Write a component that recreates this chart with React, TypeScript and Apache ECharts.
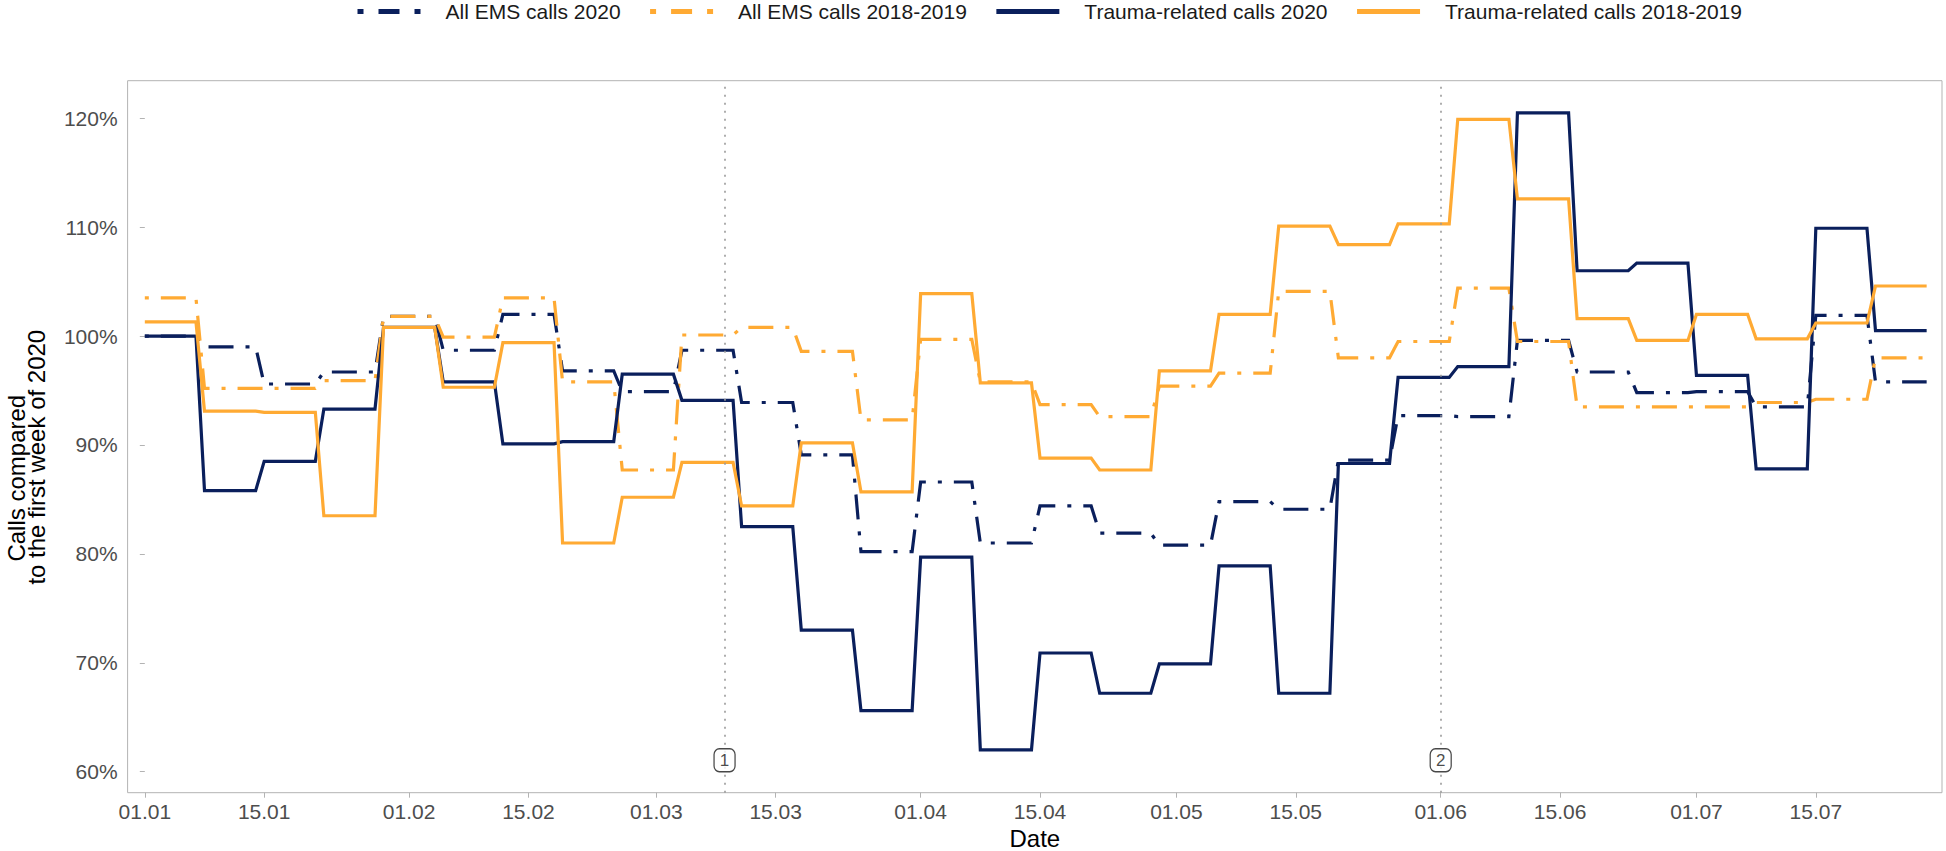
import React, { useEffect, useRef } from "react";
import * as echarts from "echarts";

// ---- data (weekly values, % of the first week of 2020) ----
const seriesNames = [
  "All EMS calls 2020",
  "All EMS calls 2018-2019",
  "Trauma-related calls 2020",
  "Trauma-related calls 2018-2019",
];

const allEms2020 = [
  100.0, 99.0, 95.6, 96.7, 101.8, 98.7, 102.0, 96.8, 94.9, 98.7,
  93.9, 89.1, 80.2, 86.6, 81.0, 84.4, 81.9, 80.8, 84.8, 84.1,
  88.6, 92.7, 92.6, 99.6, 96.7, 94.8, 94.9, 93.5, 101.9, 95.8,
];
const allEms20182019 = [
  103.5, 95.2, 95.2, 95.9, 101.8, 99.9, 103.5, 95.8, 87.7, 100.1,
  100.8, 98.6, 92.3, 99.7, 95.8, 93.7, 92.6, 95.4, 96.6, 104.1,
  98.0, 99.5, 104.4, 99.5, 93.5, 93.5, 93.5, 93.9, 94.2, 98.0,
];
const trauma2020 = [
  100.0, 85.8, 88.5, 93.3, 100.8, 95.8, 90.1, 90.3, 96.5, 94.1,
  82.5, 73.0, 65.6, 79.7, 62.0, 70.9, 67.2, 69.9, 78.9, 67.2,
  88.3, 96.2, 97.2, 120.5, 106.0, 106.7, 96.4, 87.8, 109.9, 100.5,
];
const trauma20182019 = [
  101.3, 93.1, 93.0, 83.5, 100.8, 95.3, 99.4, 81.0, 85.2, 88.4,
  84.4, 90.2, 85.7, 103.9, 95.7, 88.8, 87.7, 96.8, 102.0, 110.1,
  108.4, 110.3, 119.9, 112.6, 101.6, 99.6, 102.0, 99.75, 101.2, 104.6,
];

const xTickLabels = [
  "01.01", "15.01", "01.02", "15.02", "01.03", "15.03", "01.04",
  "15.04", "01.05", "15.05", "01.06", "15.06", "01.07", "15.07",
];
const yTickValues = [60, 70, 80, 90, 100, 110, 120];
const yTitleLines = ["Calls compared", "to the first week of 2020"];
const xTitle = "Date";

const eventDates = ["09.03", "01.06"];
const eventLabels = ["1", "2"];
const eventLabelLevel = 61.05;

// ---- helpers ----
const YEAR = 2020;
const dayOf = (label: string) => {
  const [d, m] = label.split(".").map(Number);
  return (Date.UTC(YEAR, m - 1, d) - Date.UTC(YEAR, 0, 1)) / 86400000;
};
const weekly = (vals: number[]) =>
  vals.flatMap((v, k) => [
    [7 * k, v],
    [7 * k + 6, v],
  ]);

const NAVY = "#0A1F5C";
const ORANGE = "#FFAA33";
const FONT = "'Liberation Sans', Arial, Helvetica, sans-serif";
const PLOT_DASH = [4, 12, 25, 12];
const LEGEND_DASH = [6, 15, 21, 15];
const Y_MIN = 58.07;
const Y_MAX = 123.45;

export default function App() {
  const ref = useRef<HTMLDivElement>(null);

  useEffect(() => {
    if (!ref.current) return;
    const chart = echarts.init(ref.current, undefined, { renderer: "svg" });

    const xTickDays = xTickLabels.map(dayOf);
    const labelByDay: Record<number, string> = {};
    xTickLabels.forEach((l) => (labelByDay[dayOf(l)] = l));

    const defs = [
      { name: seriesNames[0], data: allEms2020, color: NAVY, dash: true },
      { name: seriesNames[1], data: allEms20182019, color: ORANGE, dash: true },
      { name: seriesNames[2], data: trauma2020, color: NAVY, dash: false },
      { name: seriesNames[3], data: trauma20182019, color: ORANGE, dash: false },
    ];

    const lineSeries = defs.map((d, i) => ({
      type: "line",
      name: d.name,
      data: weekly(d.data),
      showSymbol: false,
      symbol: "circle",
      smooth: false,
      color: d.color,
      lineStyle: {
        color: d.color,
        width: 3.2,
        type: d.dash ? PLOT_DASH : "solid",
        cap: "butt",
        join: "miter",
      },
      emphasis: { disabled: true },
      z: 3,
      markLine:
        i === 0
          ? {
              silent: true,
              symbol: "none",
              label: { show: false },
              emphasis: { disabled: true },
              lineStyle: { color: "#9a9a9a", type: [2, 6], width: 1.6 },
              data: eventDates.map((e) => ({ xAxis: dayOf(e) })),
            }
          : undefined,
    }));

    const titleStyle = (pad: number) => ({
      fontSize: 24,
      lineHeight: 33,
      color: "#000",
      fontFamily: FONT,
      padding: [0, pad, 0, 0],
    });

    const option: any = {
      animation: false,
      backgroundColor: "#ffffff",
      textStyle: { fontFamily: FONT },
      grid: {
        left: 127.6,
        right: 4,
        top: 80.7,
        bottom: 58.3,
        show: true,
        borderColor: "#b3b3b3",
        borderWidth: 1,
        backgroundColor: "transparent",
        containLabel: false,
        outerBoundsMode: "none",
      },
      legend: {
        top: 1,
        left: 355,
        padding: 0,
        itemWidth: 63,
        itemHeight: 14,
        itemGap: 27,
        itemStyle: { opacity: 0 },
        textStyle: {
          fontSize: 21,
          color: "#1a1a1a",
          fontFamily: FONT,
          padding: [0, 0, 0, 20],
        },
        data: defs.map((d) => ({
          name: d.name,
          lineStyle: {
            color: d.color,
            width: 5,
            type: d.dash ? LEGEND_DASH : "solid",
            cap: "butt",
          },
        })),
      },
      xAxis: {
        type: "value",
        min: -2.02,
        max: 210.8,
        name: xTitle,
        nameLocation: "middle",
        nameGap: 31,
        nameTextStyle: { fontSize: 24, lineHeight: 20, color: "#000", fontFamily: FONT },
        axisLine: { show: false },
        axisTick: {
          show: true,
          length: 5,
          lineStyle: { color: "#b3b3b3", width: 1 },
          customValues: xTickDays,
        },
        axisLabel: {
          show: true,
          margin: 8,
          fontSize: 21,
          color: "#4d4d4d",
          fontFamily: FONT,
          customValues: xTickDays,
          formatter: (v: number) => labelByDay[Math.round(v)] ?? "",
        },
        splitLine: { show: false },
      },
      yAxis: [
        {
          type: "value",
          min: Y_MIN,
          max: Y_MAX,
          position: "left",
          name: yTitleLines[1],
          nameLocation: "middle",
          nameRotate: 90,
          nameGap: 68,
          nameTextStyle: titleStyle(41),
          axisLine: { show: false },
          axisTick: {
            show: true,
            length: 5,
            lineStyle: { color: "#b3b3b3", width: 1 },
            customValues: yTickValues,
          },
          axisLabel: {
            show: true,
            margin: 10,
            fontSize: 21,
            color: "#4d4d4d",
            fontFamily: FONT,
            customValues: yTickValues,
            formatter: "{value}%",
          },
          splitLine: { show: false },
        },
        {
          type: "value",
          min: Y_MIN,
          max: Y_MAX,
          position: "left",
          offset: 0,
          name: yTitleLines[0],
          nameLocation: "middle",
          nameRotate: 90,
          nameGap: 95,
          nameTextStyle: titleStyle(83),
          axisLine: { show: false },
          axisTick: { show: false },
          axisLabel: { show: false },
          splitLine: { show: false },
        },
      ],
      series: [
        ...lineSeries,
        {
          type: "scatter",
          name: "events",
          data: eventDates.map((e, i) => [dayOf(e), eventLabelLevel, eventLabels[i]]),
          symbol: "roundRect",
          symbolSize: [21, 23],
          itemStyle: { color: "#ffffff", borderColor: "#1a1a1a", borderWidth: 1.3 },
          label: {
            show: true,
            position: "inside",
            formatter: (p: any) => p.data[2],
            fontSize: 17,
            color: "#1a1a1a",
            fontFamily: FONT,
          },
          emphasis: { disabled: true },
          silent: true,
          z: 5,
        },
      ],
    };

    chart.setOption(option);
    return () => chart.dispose();
  }, []);

  return (
    <div
      ref={ref}
      style={{ position: "absolute", left: 0, top: 0, width: 1946, height: 851, background: "#fff" }}
    />
  );
}
